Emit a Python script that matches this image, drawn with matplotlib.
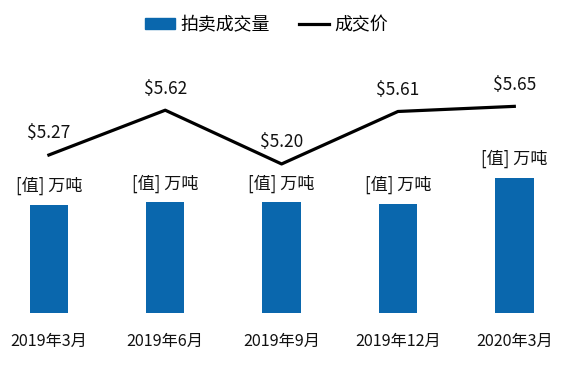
import numpy as np
import matplotlib.pyplot as plt
from matplotlib.patches import Patch
from matplotlib.lines import Line2D

plt.rcParams['font.family'] = ['Noto Sans CJK SC', 'DejaVu Sans']

months = ['2019年3月', '2019年6月', '2019年9月', '2019年12月', '2020年3月']
volume = [4.0, 4.1, 4.1, 4.05, 5.0]   # 万吨 (values not shown)
price = [5.27, 5.62, 5.20, 5.61, 5.65]
vol_labels = ['[值] 万吨'] * 5

blue = '#0A67AD'

fig = plt.figure(figsize=(5.69, 3.65), dpi=100)
ax = fig.add_axes([0, 52 / 365, 1, 313 / 365])
x = np.arange(len(months))

ax.bar(x, volume, width=0.33, color=blue, zorder=2)
ax.set_xlim(-0.42, 4.47)
ax.set_ylim(0, 5.0 * 313 / 135)
for xi, v, lab in zip(x, volume, vol_labels):
    ax.annotate(lab, (xi, v), xytext=(0, 7), textcoords='offset points',
                ha='center', va='bottom', fontsize=12.3, color='#111111')

ax.set_xticks(x)
ax.set_xticklabels(months, fontsize=11.6, color='#111111')
ax.tick_params(axis='x', length=0, pad=14.5)
ax.set_yticks([])
for s in ax.spines.values():
    s.set_visible(False)

ax2 = ax.twinx()
ax2.plot(x, price, color='black', lw=2.3, zorder=3)
ax2.set_ylim(5.27 - 158 / 128, 5.27 + 155 / 128)
for xi, p in zip(x, price):
    ax2.annotate(f'${p:.2f}', (xi, p), xytext=(0, 9), textcoords='offset points',
                 ha='center', va='bottom', fontsize=12.5, color='#111111')
ax2.set_yticks([])
for s in ax2.spines.values():
    s.set_visible(False)

handles = [Patch(color=blue), Line2D([0], [0], color='black', lw=2.3)]
fig.legend(handles, ['拍卖成交量', '成交价'], loc='upper center',
           bbox_to_anchor=(0.468, 1.0), ncol=2, frameon=False, fontsize=12.9,
           handlelength=1.7, handleheight=0.6, handletextpad=0.3,
           columnspacing=1.6)

fig.savefig('out.png', dpi=100)
